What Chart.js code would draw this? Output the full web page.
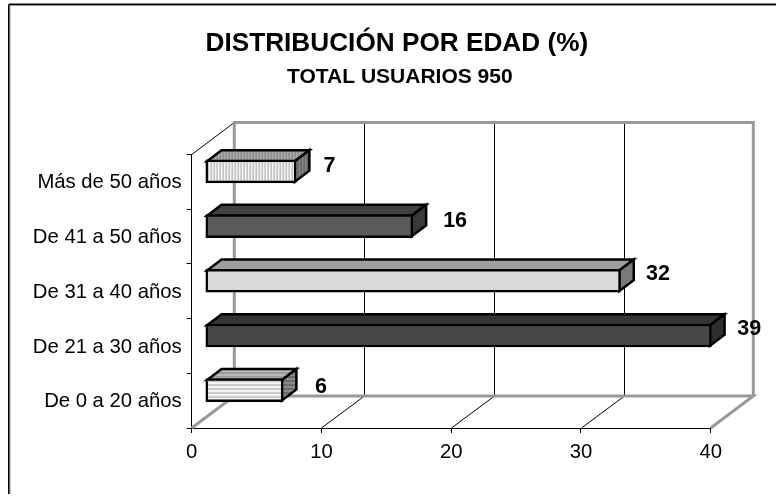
<!DOCTYPE html>
<html>
<head>
<meta charset="utf-8">
<style>html,body{margin:0;padding:0;background:#fff}canvas{display:block}</style>
<script src="https://cdn.jsdelivr.net/npm/chart.js@4"></script>
</head>
<body>
<canvas id="c" width="776" height="501"></canvas>
<script>
const categories = ['Más de 50 años','De 41 a 50 años','De 31 a 40 años','De 21 a 30 años','De 0 a 20 años'];
const values = [7, 16, 32, 39, 6];
const xTicks = [0, 10, 20, 30, 40];
const titleText = 'DISTRIBUCIÓN POR EDAD (%)';
const subtitleText = 'TOTAL USUARIOS 950';

const FONT = '"Liberation Sans", Arial, sans-serif';
const WALL = {dx: 42.6, dy: -32};
const BAR = {shiftX: 13.6, shiftY: -10.5, dx: 14.5, dy: -11};
const GRAY = '#999999';
const labelOffsets = [[33.4,-15.5],[42.2,-15.5],[37.4,-17.5],[37.9,-17],[37.9,-13.5]];

function pat(w, h, paint) {
  const cv = document.createElement('canvas');
  cv.width = w; cv.height = h;
  const g = cv.getContext('2d');
  paint(g);
  return g.createPattern(cv, 'repeat');
}
const vStripes = (a, b) => pat(3, 3, g => { g.fillStyle = a; g.fillRect(0,0,3,3); g.fillStyle = b; g.fillRect(2,0,1,3); });
const hStripes = (a, b) => pat(4, 4, g => { g.fillStyle = a; g.fillRect(0,0,4,4); g.fillStyle = b; g.fillRect(0,3,4,1); });
const dots = (a, b) => pat(2, 2, g => { g.fillStyle = a; g.fillRect(0,0,2,2); g.fillStyle = b; g.fillRect(0,0,1,1); g.fillRect(1,1,1,1); });

const fronts = [vStripes('#f4f4f4','#a8a8a8'), dots('#6a6a6a','#4a4a4a'), dots('#f2f2f2','#c0c0c0'), dots('#525252','#3c3c3c'), hStripes('#f4f4f4','#a0a0a0')];
const tops   = [vStripes('#a8a8a8','#808080'), dots('#4a4a4a','#383838'), dots('#b0b0b0','#8c8c8c'), dots('#3e3e3e','#2a2a2a'), hStripes('#b8b8b8','#808080')];
const sides  = [vStripes('#8a8a8a','#505050'), dots('#424242','#303030'), dots('#8c8c8c','#686868'), dots('#383838','#242424'), hStripes('#8a8a8a','#4c4c4c')];

const scene = {
  id: 'scene',
  afterLayout(chart) {
    chart.boxes.forEach(b => {
      const t = b.options && b.options.text;
      if (t === titleText) { b.left += 41.5; b.right += 41.5; }
      if (t === subtitleText) { b.left += 44.5; b.right += 44.5; }
    });
  },
  beforeDraw(chart) {
    const c = chart.ctx;
    c.save();
    c.fillStyle = '#fff'; c.fillRect(0,0,chart.width,chart.height);
    c.strokeStyle = '#c8c8c8'; c.lineWidth = 1;
    c.beginPath(); c.moveTo(10.5,5.5); c.lineTo(776,5.5); c.moveTo(10.5,5.5); c.lineTo(10.5,494); c.stroke();
    c.strokeStyle = '#000'; c.lineWidth = 1.6;
    c.beginPath(); c.moveTo(8.8,4.4); c.lineTo(776,4.4); c.moveTo(8.8,4.4); c.lineTo(8.8,494); c.stroke();
    c.restore();
  },
  beforeDatasetsDraw(chart) {
    const c = chart.ctx, xs = chart.scales.x, a = chart.chartArea;
    const L = a.left, R = a.right, T = a.top, B = a.bottom;
    const d = WALL;
    c.save();
    c.strokeStyle = '#000'; c.lineWidth = 1;
    xTicks.slice(1, -1).forEach(v => {
      const px = Math.round(xs.getPixelForValue(v)) + 0.5;
      const bx = Math.round(xs.getPixelForValue(v) + d.dx) + 0.5;
      c.beginPath(); c.moveTo(px, B); c.lineTo(bx, B + d.dy); c.lineTo(bx, T + d.dy); c.stroke();
    });
    c.beginPath(); c.moveTo(L, T); c.lineTo(L + d.dx, T + d.dy); c.stroke();
    c.strokeStyle = GRAY; c.lineWidth = 3;
    c.beginPath();
    c.moveTo(L, B); c.lineTo(L + d.dx, B + d.dy); c.lineTo(R + d.dx, B + d.dy); c.lineTo(R, B);
    c.moveTo(L + d.dx, B + d.dy); c.lineTo(L + d.dx, T + d.dy); c.lineTo(R + d.dx, T + d.dy); c.lineTo(R + d.dx, B + d.dy);
    c.stroke();
    c.restore();

    c.save();
    c.translate(BAR.shiftX, BAR.shiftY);
    c.lineWidth = 2.5; c.strokeStyle = '#000'; c.lineJoin = 'miter';
    chart.getDatasetMeta(0).data.forEach((el, i) => {
      const p = el.getProps(['x','y','base','height'], true);
      const top = p.y - p.height/2 + 1.25, bot = p.y + p.height/2 - 1.25, l = p.base + 1.25, r = p.x - 1.25;
      c.fillStyle = tops[i];
      c.beginPath(); c.moveTo(l, top); c.lineTo(l + BAR.dx, top + BAR.dy); c.lineTo(r + BAR.dx, top + BAR.dy); c.lineTo(r, top); c.closePath(); c.fill(); c.stroke();
      c.fillStyle = sides[i];
      c.beginPath(); c.moveTo(r, top); c.lineTo(r + BAR.dx, top + BAR.dy); c.lineTo(r + BAR.dx, bot + BAR.dy); c.lineTo(r, bot); c.closePath(); c.fill(); c.stroke();
    });
  },
  afterDatasetsDraw(chart) {
    const c = chart.ctx;
    c.restore();
    c.save();
    c.fillStyle = '#000';
    c.font = 'bold 21.5px ' + FONT;
    c.textAlign = 'center'; c.textBaseline = 'middle';
    chart.getDatasetMeta(0).data.forEach((el, i) => {
      const p = el.getProps(['x','y'], true);
      c.fillText(String(values[i]), p.x + BAR.shiftX + labelOffsets[i][0], p.y + labelOffsets[i][1]);
    });
    c.restore();
  }
};

new Chart(document.getElementById('c'), {
  type: 'bar',
  data: {
    labels: categories,
    datasets: [{
      data: values,
      backgroundColor: fronts,
      borderColor: '#000',
      borderWidth: 2.5,
      borderSkipped: false,
      barThickness: 23,
      clip: false
    }]
  },
  plugins: [scene],
  options: {
    indexAxis: 'y',
    responsive: false,
    animation: false,
    events: [],
    layout: { padding: { left: 0, right: 65.3, top: 0, bottom: 0 } },
    plugins: {
      legend: { display: false },
      tooltip: { enabled: false },
      title: { display: true, text: titleText, color: '#000', font: { family: FONT, size: 26.2, weight: 'bold', lineHeight: 1.2 }, padding: { top: 28, bottom: 0 } },
      subtitle: { display: true, text: subtitleText, color: '#000', font: { family: FONT, size: 21, weight: 'bold', lineHeight: 1.2 }, padding: { top: 5.2, bottom: 64.7 } }
    },
    scales: {
      x: {
        type: 'linear', min: 0, max: 40,
        afterBuildTicks(s) { s.ticks = xTicks.map(v => ({ value: v })); },
        afterFit(s) { s.height = 73; },
        ticks: { color: '#000', font: { family: FONT, size: 20.3 }, padding: 7, maxRotation: 0, autoSkip: false },
        grid: { drawOnChartArea: false, drawTicks: true, tickLength: 5, color: '#000', lineWidth: 1 },
        border: { color: '#000', width: 1 }
      },
      y: {
        afterFit(s) { s.width = 191.7; },
        ticks: { color: '#000', font: { family: FONT, size: 20.3 }, padding: 5, labelOffset: 1 },
        grid: { drawOnChartArea: false, drawTicks: true, tickLength: 5, color: '#000', lineWidth: 1 },
        border: { color: '#000', width: 1 }
      }
    }
  }
});
</script>
</body>
</html>
